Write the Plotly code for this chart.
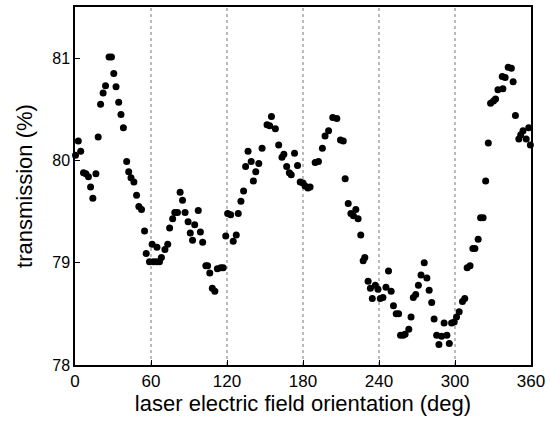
import plotly.graph_objects as go

# laser electric field orientation (deg)
angle = [0.4, 2.6, 4.5, 6.7, 8.6, 10.6, 12.3, 14.1, 16.5, 18.3, 20.2, 22.2, 24.1, 26.9, 28.8,
         30.6, 32.4, 34.5, 36.3, 38.2, 40.8, 42.4, 44.2, 46.5, 48.6, 50.4, 52.5, 54.9, 56.2, 58.8,
         60.9, 62.0, 64.5, 64.7, 66.7, 68.2, 71.0, 73.2, 74.7, 77.1, 78.8, 80.9, 83.0, 84.9, 86.9,
         89.3, 91.0, 92.8, 94.5, 97.3, 99.0, 100.8, 103.3, 104.7, 106.4, 108.4, 110.4, 112.4, 115.1, 117.0,
         119.0, 120.5, 122.9, 124.9, 127.3, 128.9, 131.0, 133.1, 134.7, 136.6, 139.1, 140.8, 142.7, 145.1, 147.7,
         151.6, 153.7, 155.1, 158.2, 160.8, 163.4, 164.9, 167.1, 169.2, 170.7, 173.3, 175.7, 177.8, 180.0, 181.7,
         183.9, 185.6, 189.6, 192.2, 195.3, 197.4, 200.2, 203.5, 206.7, 209.6, 211.8, 213.3, 215.7, 217.8, 219.8,
         221.7, 223.5, 225.6, 227.5, 228.8, 231.4, 233.2, 234.7, 237.1, 239.2, 241.0, 243.1, 245.5, 247.5, 249.6,
         251.4, 253.6, 255.5, 257.0, 259.1, 260.6, 263.5, 265.3, 267.1, 269.0, 271.1, 273.2, 275.7, 277.8, 279.6,
         281.6, 283.5, 285.5, 287.3, 289.4, 291.4, 293.6, 295.5, 297.3, 299.4, 301.2, 303.3, 305.9, 307.7, 309.6,
         311.9, 314.1, 315.7, 318.3, 320.2, 322.2, 324.2, 326.3, 328.1, 330.4, 332.0, 333.9, 337.8, 337.3, 339.6,
         342.0, 344.5, 345.9, 347.7, 350.4, 351.9, 353.7, 356.2, 358.2, 359.5]

# transmission (%)
transmission = [80.05, 80.19, 80.09, 79.88, 79.87, 79.84, 79.74, 79.63, 79.87, 80.23, 80.55, 80.66, 80.73, 81.01, 81.01,
                80.85, 80.72, 80.57, 80.45, 80.32, 79.99, 79.89, 79.83, 79.79, 79.66, 79.55, 79.52, 79.31, 79.09, 79.01,
                79.18, 79.01, 79.01, 79.15, 79.01, 79.05, 79.13, 79.18, 79.34, 79.43, 79.49, 79.49, 79.69, 79.61, 79.49,
                79.40, 79.29, 79.22, 79.37, 79.51, 79.30, 79.20, 78.97, 78.97, 78.90, 78.75, 78.72, 78.94, 78.95, 78.95,
                79.26, 79.48, 79.47, 79.21, 79.27, 79.48, 79.60, 79.70, 79.94, 80.09, 79.99, 79.80, 79.89, 79.97, 80.12,
                80.35, 80.34, 80.43, 80.31, 80.15, 80.03, 80.06, 79.94, 79.88, 79.86, 80.07, 79.95, 79.79, 79.78, 79.75,
                79.73, 79.74, 79.98, 79.99, 80.12, 80.24, 80.29, 80.42, 80.41, 80.20, 80.19, 79.82, 79.58, 79.48, 79.46,
                79.52, 79.43, 79.27, 79.02, 79.05, 78.82, 78.75, 78.65, 78.78, 78.74, 78.65, 78.66, 78.76, 78.92, 78.72,
                78.58, 78.50, 78.50, 78.29, 78.29, 78.30, 78.35, 78.47, 78.66, 78.69, 78.78, 78.88, 79.00, 78.85, 78.73,
                78.61, 78.45, 78.29, 78.20, 78.28, 78.41, 78.29, 78.21, 78.41, 78.42, 78.47, 78.52, 78.62, 78.65, 78.95,
                78.97, 79.14, 79.14, 79.23, 79.44, 79.44, 79.80, 80.17, 80.56, 80.58, 80.60, 80.69, 80.70, 80.82, 80.81,
                80.91, 80.90, 80.77, 80.44, 80.21, 80.25, 80.29, 80.21, 80.32, 80.15]

x_ticks = [0, 60, 120, 180, 240, 300, 360]
y_ticks = [78, 79, 80, 81]
grid_lines = [60, 120, 180, 240, 300]

fig = go.Figure()
fig.add_trace(go.Scatter(
    x=angle, y=transmission, mode="markers",
    marker=dict(color="black", size=7, line=dict(width=0)),
    showlegend=False, cliponaxis=False,
))

for g in grid_lines:
    fig.add_shape(type="line", xref="x", yref="paper", x0=g, x1=g, y0=0, y1=1,
                  line=dict(color="#777777", width=1, dash="dot"), layer="below")

font_family = "Liberation Sans, Arial, sans-serif"
fig.update_layout(
    width=550, height=421,
    margin=dict(l=75, r=16, t=5, b=56),
    paper_bgcolor="white", plot_bgcolor="white",
    font=dict(family=font_family, color="black", size=16),
    xaxis=dict(
        range=[0, 360], tickvals=x_ticks, ticktext=[str(v) for v in x_ticks],
        showgrid=False, zeroline=False,
        showline=True, linecolor="black", linewidth=1.5, mirror=True,
        ticks="inside", ticklen=5, tickcolor="black", tickwidth=1,
        tickfont=dict(size=17),
        title=dict(text="laser electric field orientation (deg)", font=dict(size=22), standoff=3),
    ),
    yaxis=dict(
        range=[78, 81.5], tickvals=y_ticks, ticktext=[str(v) for v in y_ticks],
        showgrid=False, zeroline=False,
        showline=True, linecolor="black", linewidth=1.5, mirror=True,
        ticks="inside", ticklen=5, tickcolor="black", tickwidth=1,
        tickfont=dict(size=16),
        title=dict(text="transmission (%)", font=dict(size=22), standoff=14),
    ),
)

fig.write_html("out.html")
